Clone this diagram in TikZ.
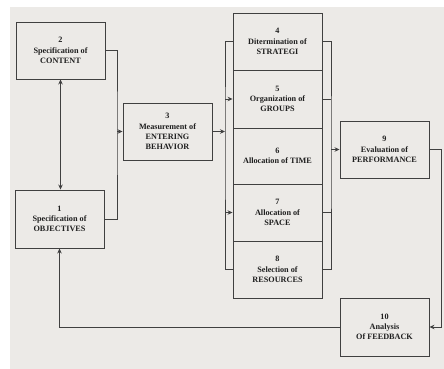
\documentclass[tikz,border=0pt]{standalone}
\usepackage{fontspec}
\setmainfont{Liberation Serif}
\usetikzlibrary{arrows.meta}
\definecolor{paper}{HTML}{ECEAE7}
\definecolor{ink}{HTML}{404040}
\begin{document}
\begin{tikzpicture}[x=1pt,y=-1pt,
  box/.style={draw=ink,line width=0.9pt,fill=paper,align=center,inner sep=1pt,
    font=\fontsize{8.2}{10.3}\selectfont\bfseries,text=black!88},
  link/.style={draw=ink,line width=1pt},
  flow/.style={link,-{Stealth[length=5pt,width=4.5pt]}},
  both/.style={link,{Stealth[length=5pt,width=4.5pt]}-{Stealth[length=5pt,width=4.5pt]}}]
% sheet
\fill[white] (0,0) rectangle (444,369);
\fill[paper] (10,7) rectangle (444,369);
\useasboundingbox (0,0) rectangle (444,369);
% boxes
\node[box,minimum width=89pt,minimum height=57pt] (b2) at (60.5,50.5) {2\\Specification of\\CONTENT};
\node[box,minimum width=89pt,minimum height=58pt] (b1) at (59.5,219) {1\\Specification of\\OBJECTIVES};
\node[box,minimum width=89pt,minimum height=57pt] (b3) at (167.5,131.5) {3\\Measurement of\\ENTERING\\BEHAVIOR};
\node[box,minimum width=89pt,minimum height=57pt] (b4) at (277.5,41.5) {4\\Ditermination of\\STRATEGI};
\node[box,minimum width=89pt,minimum height=58pt] (b5) at (277.5,99) {5\\Organization of\\GROUPS};
\node[box,minimum width=89pt,minimum height=56pt] (b6) at (277.5,156) {6\\Allocation of TIME};
\node[box,minimum width=89pt,minimum height=57pt] (b7) at (277.5,212.5) {7\\Allocation of\\SPACE};
\node[box,minimum width=89pt,minimum height=57pt] (b8) at (277.5,269.5) {8\\Selection of\\RESOURCES};
\node[box,minimum width=89pt,minimum height=57pt] (b9) at (384.5,149.5) {9\\Evaluation of\\PERFORMANCE};
\node[box,minimum width=89pt,minimum height=58pt] (b10) at (384.5,327) {10\\Analysis\\Of FEEDBACK};
% junction points
\coordinate (j1) at (117,131.5);
\coordinate (j2) at (225,131.5);
\coordinate (j3) at (331,149.5);
\coordinate (j4) at (441,327);
% connectors
\draw[both] (b2.south) -- (b2.south |- b1.north);
\draw[link] (b2.east) -| (j1) |- (b1.east);
\draw[flow] (j1) -- (b3.west);
\draw[flow] (b3.east) -- (j2);
\draw[link] (b4.west) -| (j2) |- (b8.west);
\draw[flow] (j2 |- b5.west) -- (b5.west);
\draw[flow] (j2 |- b7.west) -- (b7.west);
\draw[link] (b4.east) -| (j3) |- (b8.east);
\draw[link] (b5.east) -- (j3 |- b5.east);
\draw[link] (b7.east) -- (j3 |- b7.east);
\draw[flow] (j3) -- (b9.west);
\draw[flow] (b9.east) -| (j4) -- (b10.east);
\draw[flow] (b10.west) -| (b1.south);
\end{tikzpicture}
\end{document}
